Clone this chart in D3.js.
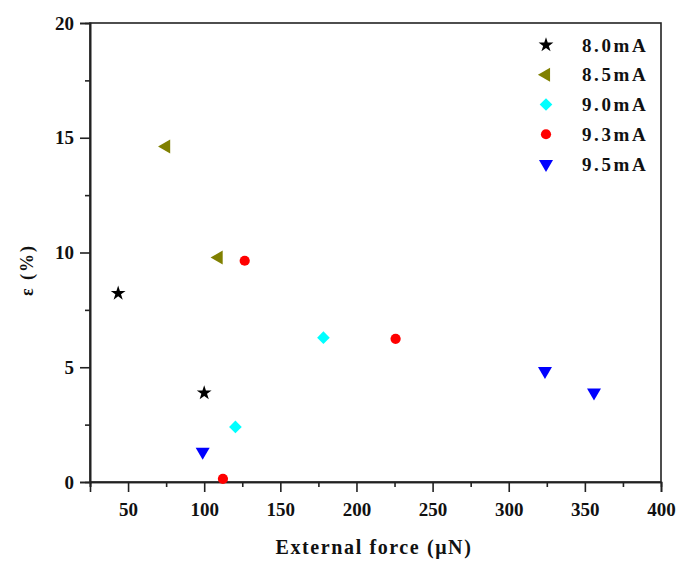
<!DOCTYPE html>
<html>
<head>
<meta charset="utf-8">
<script src="https://cdn.jsdelivr.net/npm/d3@7/dist/d3.min.js"></script>
<style>
  body { margin: 0; background: #fff; }
  text { font-family: "Liberation Serif", "Times New Roman", serif; font-weight: bold; fill: #111; }
</style>
</head>
<body>
<svg id="chart" width="678" height="561"></svg>
<script>
// Strain ε (%) versus external force (μN) at several drive currents
const seriesNames = ["8.0mA", "8.5mA", "9.0mA", "9.3mA", "9.5mA"];
const force80 = [43.5, 100];
const strain80 = [8.22, 3.88];
const force85 = [75, 109.5];
const strain85 = [14.62, 9.78];
const force90 = [120.5, 178.3];
const strain90 = [2.4, 6.29];
const force93 = [112.3, 126.6, 225.7];
const strain93 = [0.14, 9.64, 6.24];
const force95 = [99, 323.8, 356];
const strain95 = [1.32, 4.84, 3.9];
const xTicks = [50, 100, 150, 200, 250, 300, 350, 400];
const yTicks = [0, 5, 10, 15, 20];

const series = [
  { name: seriesNames[0], xs: force80, ys: strain80, color: "#000000", shape: "star" },
  { name: seriesNames[1], xs: force85, ys: strain85, color: "#808000", shape: "left" },
  { name: seriesNames[2], xs: force90, ys: strain90, color: "#00ffff", shape: "diamond" },
  { name: seriesNames[3], xs: force93, ys: strain93, color: "#ff0000", shape: "circle" },
  { name: seriesNames[4], xs: force95, ys: strain95, color: "#0000ff", shape: "down" }
];

const svg = d3.select("#chart");
const plotL = 90, plotR = 661, plotT = 23, plotB = 482;

const x = d3.scaleLinear().domain([25, 400]).range([plotL, plotR]);
const y = d3.scaleLinear().domain([0, 20]).range([plotB, plotT]);

function markerPath(shape) {
  if (shape === "star") return d3.symbol(d3.symbolStar, 68)();
  if (shape === "circle") return d3.symbol(d3.symbolCircle, 82)();
  if (shape === "diamond") return d3.symbol(d3.symbolSquare, 80)();
  return d3.symbol(d3.symbolTriangle, 85)();
}
function markerRotation(shape) {
  if (shape === "left") return -90;
  if (shape === "down") return 180;
  if (shape === "diamond") return 45;
  return 0;
}

// frame
svg.append("rect")
  .attr("x", plotL).attr("y", plotT)
  .attr("width", plotR - plotL).attr("height", plotB - plotT)
  .attr("fill", "none").attr("stroke", "#222").attr("stroke-width", 1.6);

// bottom axis: major ticks with labels, unlabeled minor ticks between
const xAxis = d3.axisBottom(x).tickValues(xTicks).tickSize(10).tickPadding(6).tickFormat(d3.format("d"));
const gx = svg.append("g").attr("transform", `translate(0,${plotB})`).call(xAxis);
const xMinor = d3.range(25, 400, 50);
svg.append("g").attr("transform", `translate(0,${plotB})`)
  .call(d3.axisBottom(x).tickValues(xMinor).tickSize(5).tickFormat(""));

const yAxis = d3.axisLeft(y).tickValues(yTicks).tickSize(10).tickPadding(6).tickFormat(d3.format("d"));
const gy = svg.append("g").attr("transform", `translate(${plotL},0)`).call(yAxis);
const yMinor = d3.range(2.5, 20, 5);
svg.append("g").attr("transform", `translate(${plotL},0)`)
  .call(d3.axisLeft(y).tickValues(yMinor).tickSize(5).tickFormat(""));

svg.selectAll(".domain").attr("stroke", "#222").attr("stroke-width", 1.6);
svg.selectAll(".tick line").attr("stroke", "#222").attr("stroke-width", 1.6);
svg.selectAll(".tick text")
  .style("font-family", "'Liberation Serif', serif")
  .style("font-weight", "bold").style("font-size", "19px").attr("fill", "#111");
gx.selectAll(".tick text").attr("dy", "0.95em");

// axis titles
svg.append("text")
  .attr("x", 374).attr("y", 554)
  .attr("text-anchor", "middle")
  .style("font-size", "20px").style("letter-spacing", "1.6px")
  .text("External force (μN)");

svg.append("text")
  .attr("transform", "translate(33,270) rotate(-90)")
  .attr("text-anchor", "middle")
  .style("font-size", "18px").style("letter-spacing", "2px")
  .text("ε (%)");

// data points
series.forEach(s => {
  svg.append("g").selectAll("path")
    .data(s.xs.map((v, i) => [v, s.ys[i]]))
    .join("path")
    .attr("d", markerPath(s.shape))
    .attr("transform", d => `translate(${x(d[0])},${y(d[1])}) rotate(${markerRotation(s.shape)})`)
    .attr("fill", s.color);
});

// legend
const legendY = d3.scalePoint().domain(seriesNames).range([45, 164]);
const legend = svg.append("g");
series.forEach(s => {
  legend.append("path")
    .attr("d", markerPath(s.shape))
    .attr("transform", `translate(546,${legendY(s.name)}) rotate(${markerRotation(s.shape)})`)
    .attr("fill", s.color);
  legend.append("text")
    .attr("x", 582).attr("y", legendY(s.name)).attr("dy", "0.35em")
    .style("font-size", "19px").style("letter-spacing", "2.6px")
    .text(s.name);
});
</script>
</body>
</html>
